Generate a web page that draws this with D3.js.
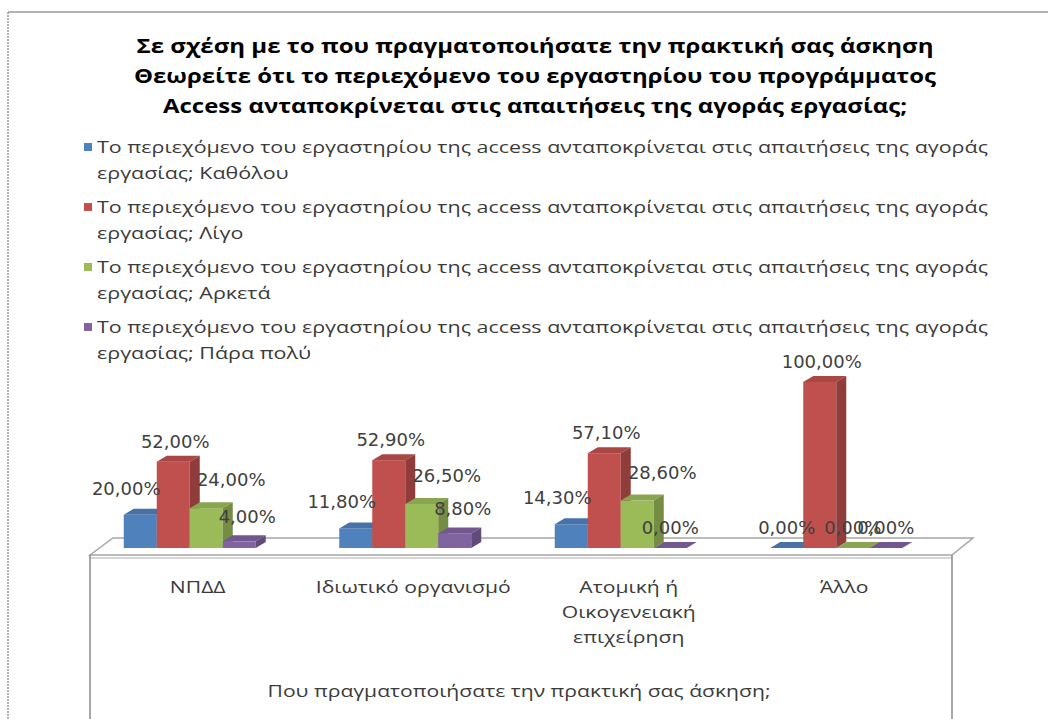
<!DOCTYPE html>
<html>
<head>
<meta charset="utf-8">
<title>Πρακτική άσκηση - Access</title>
<script src="https://d3js.org/d3.v7.min.js"></script>
<style>
body { margin: 0; background: #fff; }
svg { display: block; }
.title { font-family: "Open Sans", "Noto Sans", sans-serif; font-weight: bold; font-size: 20px; fill: #000; }
.legend, .cat, .axis-title { font-family: "Open Sans", "Noto Sans", sans-serif; font-size: 17px; fill: #3b3b3b; }
.val { font-family: "DejaVu Sans", Verdana, sans-serif; font-size: 18px; fill: #404040; }
</style>
</head>
<body>
<script>
// chart data
var titleLines = [
  "Σε σχέση με το που πραγματοποιήσατε την πρακτική σας άσκηση",
  "Θεωρείτε ότι το περιεχόμενο  του εργαστηρίου του προγράμματος",
  "Access ανταποκρίνεται στις απαιτήσεις της αγοράς εργασίας;"
];
var categories = ["ΝΠΔΔ", "Ιδιωτικό οργανισμό", "Ατομική ή Οικογενειακή επιχείρηση", "Άλλο"];
var categoryLines = [["ΝΠΔΔ"], ["Ιδιωτικό οργανισμό"], ["Ατομική ή", "Οικογενειακή", "επιχείρηση"], ["Άλλο"]];
var legendPrefix = "Το περιεχόμενο του εργαστηρίου της access ανταποκρίνεται στις απαιτήσεις της αγοράς";
var seriesNames = ["Καθόλου", "Λίγο", "Αρκετά", "Πάρα πολύ"];
var katholou = [20.0, 11.8, 14.3, 0.0];
var ligo = [52.0, 52.9, 57.1, 100.0];
var arketa = [24.0, 26.5, 28.6, 0.0];
var paraPoly = [4.0, 8.8, 0.0, 0.0];
var axisTitle = "Που πραγματοποιήσατε την πρακτική σας άσκηση;";

var seriesValues = [katholou, ligo, arketa, paraPoly];
var colors = ["#4f81bd", "#c0504d", "#9bbb59", "#8064a2"];

var width = 1048, height = 719;
var svg = d3.select("body").append("svg")
  .attr("width", width).attr("height", height);

// outer chart border (only top and left show in the crop)
svg.append("line").attr("x1", 8).attr("y1", 12).attr("x2", width).attr("y2", 12)
  .attr("stroke", "#9a9a9a").attr("stroke-width", 1.5);
svg.append("line").attr("x1", 8).attr("y1", 12).attr("x2", 8).attr("y2", height)
  .attr("stroke", "#9a9a9a").attr("stroke-width", 1.5).attr("stroke-dasharray", "2,1");

// title
var titleWidths = [797, 802, 744];
svg.selectAll(".title").data(titleLines).enter().append("text")
  .attr("class", "title")
  .attr("x", 535).attr("y", function(d, i) { return 53 + i * 30; })
  .attr("text-anchor", "middle")
  .attr("textLength", function(d, i) { return titleWidths[i]; })
  .attr("lengthAdjust", "spacingAndGlyphs")
  .text(function(d) { return d; });

// legend
var legend = svg.append("g");
var lg = legend.selectAll("g").data(seriesNames).enter().append("g")
  .attr("transform", function(d, i) { return "translate(0," + (i * 60) + ")"; });
lg.append("rect").attr("x", 84).attr("y", 143).attr("width", 8).attr("height", 8)
  .attr("fill", function(d, i) { return colors[i]; });
var l1 = lg.append("text").attr("class", "legend").attr("x", 97).attr("y", 153).text(legendPrefix);
var natural = l1.node().getComputedTextLength();
var stretch = 891 / natural;
l1.attr("textLength", 891).attr("lengthAdjust", "spacingAndGlyphs");
lg.append("text").attr("class", "legend").attr("x", 97).attr("y", 179)
  .text(function(d) { return "εργασίας; " + d; })
  .each(function() {
    d3.select(this).attr("textLength", this.getComputedTextLength() * stretch)
      .attr("lengthAdjust", "spacingAndGlyphs");
  });

// scales
var y = d3.scaleLinear().domain([0, 100]).range([548, 382]);
var x0 = d3.scaleBand().domain(categories).range([82, 944]);
var x1 = d3.scaleBand().domain(seriesNames).range([0, 132]);
var bw = x1.bandwidth();
var dx = 10, dy = -6;

// floor and front panel
var floorL = 90, floorR = 952, floorFront = 555, floorBack = 538;
var plot = svg.append("g");
plot.append("path")
  .attr("d", "M" + floorL + "," + floorFront + "L" + (floorL + 23) + "," + floorBack +
    "L" + (floorR + 21) + "," + floorBack + "L" + floorR + "," + floorFront + "Z")
  .attr("fill", "#fff").attr("stroke", "#a6a6a6").attr("stroke-width", 1.5);
plot.append("line").attr("x1", floorL).attr("y1", floorFront + 3).attr("x2", floorR).attr("y2", floorFront + 3)
  .attr("stroke", "#c8c8c8").attr("stroke-width", 1.5);
plot.append("line").attr("x1", floorL).attr("y1", floorFront).attr("x2", floorL).attr("y2", height)
  .attr("stroke", "#8a8a8a").attr("stroke-width", 1.5);
plot.append("line").attr("x1", floorR).attr("y1", floorFront).attr("x2", floorR).attr("y2", height)
  .attr("stroke", "#8a8a8a").attr("stroke-width", 1.5);

// 3d bars
var bars = [];
categories.forEach(function(c, ci) {
  seriesNames.forEach(function(s, si) {
    bars.push({ cat: c, ci: ci, si: si, v: seriesValues[si][ci] });
  });
});
var bg = plot.selectAll(".bar").data(bars).enter().append("g").attr("class", "bar");
function bx(d) { return x0(d.cat) + x0.bandwidth() / 2 - 66 + x1(seriesNames[d.si]); }
bg.append("rect")
  .attr("x", bx).attr("y", function(d) { return y(d.v); })
  .attr("width", bw).attr("height", function(d) { return y(0) - y(d.v); })
  .attr("fill", function(d) { return colors[d.si]; });
bg.append("path")
  .attr("d", function(d) {
    var x = bx(d), t = y(d.v);
    return "M" + x + "," + t + "l" + dx + "," + dy + "l" + bw + ",0l" + (-dx) + "," + (-dy) + "Z";
  })
  .attr("fill", function(d) { return d3.color(colors[d.si]).darker(0.35); });
bg.append("path")
  .attr("d", function(d) {
    var x = bx(d) + bw, t = y(d.v), b = y(0);
    return "M" + x + "," + t + "l" + dx + "," + dy + "L" + (x + dx) + "," + (b + dy) + "L" + x + "," + b + "Z";
  })
  .attr("fill", function(d) { return d3.color(colors[d.si]).darker(0.8); });

// value labels
var labDx = [-14, 2, 25, 8], labGap = [20, 14, 22, 18];
plot.selectAll(".val").data(bars).enter().append("text")
  .attr("class", "val")
  .attr("text-anchor", "middle")
  .attr("x", function(d) { return bx(d) + bw / 2 + (d.v === 0 ? 0 : labDx[d.si]); })
  .attr("y", function(d) { return y(d.v) - (d.v === 0 ? 14 : labGap[d.si]); })
  .text(function(d) { return d.v.toFixed(2).replace(".", ",") + "%"; });

// category labels
var at = svg.append("text").attr("class", "axis-title")
  .attr("x", 519).attr("y", 697).attr("text-anchor", "middle").text(axisTitle);
var catStretch = 503 / at.node().getComputedTextLength();
at.attr("textLength", 503).attr("lengthAdjust", "spacingAndGlyphs");

categoryLines.forEach(function(lines, ci) {
  var cx = x0(categories[ci]) + x0.bandwidth() / 2 + 8;
  lines.forEach(function(line, li) {
    var t = svg.append("text").attr("class", "cat")
      .attr("x", cx).attr("y", 593 + li * 25).attr("text-anchor", "middle").text(line);
    t.attr("textLength", t.node().getComputedTextLength() * catStretch)
      .attr("lengthAdjust", "spacingAndGlyphs");
  });
});
</script>
</body>
</html>
